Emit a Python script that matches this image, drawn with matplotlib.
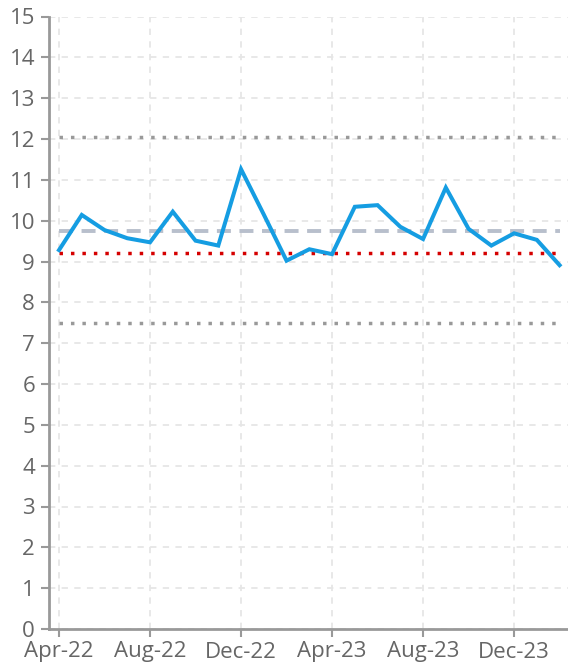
import numpy as np
import matplotlib
matplotlib.use("Agg")
import matplotlib.pyplot as plt

plt.rcParams['font.family'] = ['Open Sans', 'DejaVu Sans']

# monthly values, Apr-22 .. Feb-24
months = ["Apr-22", "May-22", "Jun-22", "Jul-22", "Aug-22", "Sep-22", "Oct-22", "Nov-22",
          "Dec-22", "Jan-23", "Feb-23", "Mar-23", "Apr-23", "May-23", "Jun-23", "Jul-23",
          "Aug-23", "Sep-23", "Oct-23", "Nov-23", "Dec-23", "Jan-24", "Feb-24"]
values = [9.28, 10.14, 9.77, 9.57, 9.47, 10.22, 9.51, 9.39,
          11.26, 10.15, 9.02, 9.30, 9.18, 10.34, 10.38, 9.85,
          9.55, 10.81, 9.80, 9.39, 9.69, 9.53, 8.91]

mean_val = 9.75
median_val = 9.21
upper_lim = 12.05
lower_lim = 7.50

tick_months = ["Apr-22", "Aug-22", "Dec-22", "Apr-23", "Aug-23", "Dec-23"]

x = np.arange(len(months))

fig = plt.figure(figsize=(5.68, 6.67), dpi=100)
ax = fig.add_axes([49/568, 1-629/667, 1-49/568, (629-16.5)/667])

ax.grid(True, color="#e6e6e6", linestyle=(0, (3.5, 3.5)), linewidth=1.3)
ax.set_axisbelow(True)

ax.plot(x, [upper_lim]*len(x), color="#999999", linestyle=(0, (1, 2.3)), linewidth=2.5, dash_capstyle="butt")
ax.plot(x, [lower_lim]*len(x), color="#999999", linestyle=(0, (1, 2.3)), linewidth=2.5, dash_capstyle="butt")
ax.plot(x, [mean_val]*len(x), color="#b8bfcc", linestyle=(0, (3.6, 2.2)), linewidth=2.8)
ax.plot(x, [median_val]*len(x), color="#d50000", linestyle=(0, (1, 2.3)), linewidth=2.5, dash_capstyle="butt")
ax.plot(x, values, color="#159de2", linewidth=2.9, solid_joinstyle="miter")

ax.set_xlim(-0.44, 22.37)
ax.set_ylim(0, 15)
ax.set_yticks(range(0, 16))
ax.set_xticks([months.index(m) for m in tick_months])
ax.set_xticklabels(tick_months)

for s in ["top", "right"]:
    ax.spines[s].set_visible(False)
for s in ["left", "bottom"]:
    ax.spines[s].set_color("#999999")
    ax.spines[s].set_linewidth(2)
ax.tick_params(colors="#999999", labelcolor="#666666", labelsize=16, length=6, width=1.5)
ax.tick_params(axis="y", pad=4)
ax.tick_params(axis="x", pad=3)

fig.savefig("out.png", dpi=100)
